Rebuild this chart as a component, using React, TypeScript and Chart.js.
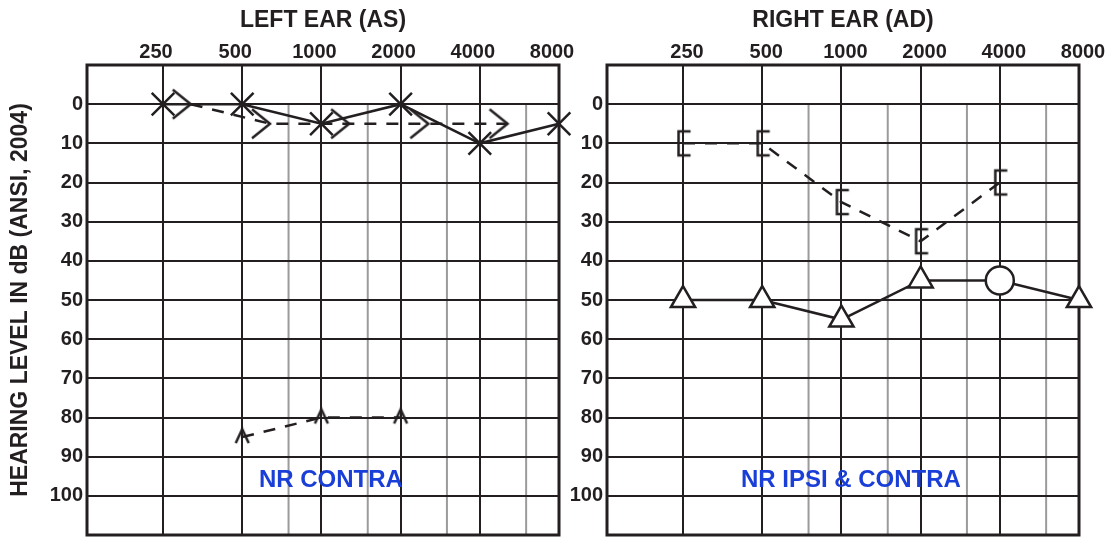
import React, { useEffect, useRef } from 'react';
import { Chart, registerables } from 'chart.js';

Chart.register(...registerables);

// ---------- data ----------
const FREQ_TICKS = [250, 500, 1000, 2000, 4000, 8000];
const FREQ_LABELS = ['250', '500', '1000', '2000', '4000', '8000'];
const MINOR_FREQS = [750, 1500, 3000, 6000];
const DB_TICKS = [0, 10, 20, 30, 40, 50, 60, 70, 80, 90, 100];

// Left ear (AS)
const LEFT_AC_FREQ = [250, 500, 1000, 2000, 4000, 8000];
const LEFT_AC_DB = [0, 0, 5, 0, 10, 5];
const LEFT_BC_FREQ = [250, 500, 1000, 2000, 4000];
const LEFT_BC_DB = [0, 5, 5, 5, 5];
const LEFT_NR_FREQ = [500, 1000, 2000];
const LEFT_NR_DB = [85, 80, 80];

// Right ear (AD)
const RIGHT_BC_FREQ = [250, 500, 1000, 2000, 4000];
const RIGHT_BC_DB = [10, 10, 25, 35, 20];
const RIGHT_AC_FREQ = [250, 500, 1000, 2000, 4000, 8000];
const RIGHT_AC_DB = [50, 50, 55, 45, 45, 50];
const RIGHT_AC_SYMBOL = ['triangle', 'triangle', 'triangle', 'triangle', 'circle', 'triangle'];

const LEFT_TITLE = 'LEFT EAR (AS)';
const RIGHT_TITLE = 'RIGHT EAR (AD)';
const Y_TITLE = 'HEARING LEVEL IN dB (ANSI, 2004)';
const LEFT_NOTE = 'NR CONTRA';
const RIGHT_NOTE = 'NR IPSI & CONTRA';

// ---------- style ----------
const INK = '#231f20';
const GREY = '#9b9b9b';
const BLUE = '#1a3fd8';
const FONT = '"Liberation Sans", Arial, Helvetica, sans-serif';
const X_MIN = 0.04;
const X_MAX = 6;
const BC_SHIFT = 0.35; // left-ear bone symbol drawn to the right of its frequency
const NOTE_X = 3.12;
const NOTE_Y = 96;

const oct = (f: number) => Math.log2(f / 125);

Chart.defaults.font.family = FONT;
Chart.defaults.color = INK;

function makeSymbol(w: number, h: number, draw: (ctx: CanvasRenderingContext2D, cx: number, cy: number) => void) {
  const c = document.createElement('canvas');
  c.width = w;
  c.height = h;
  const ctx = c.getContext('2d') as CanvasRenderingContext2D;
  ctx.strokeStyle = INK;
  ctx.lineWidth = 2.5;
  ctx.lineJoin = 'miter';
  ctx.beginPath();
  draw(ctx, w / 2, h / 2);
  ctx.stroke();
  return c;
}

function frameAndGrid(note: string) {
  return {
    id: 'audioFrame',
    beforeDraw(chart: any) {
      const { ctx, chartArea, scales } = chart;
      const x = scales.x, y = scales.y;
      ctx.save();
      ctx.strokeStyle = GREY;
      ctx.lineWidth = 2;
      const top = y.getPixelForValue(0);
      MINOR_FREQS.forEach((f) => {
        const px = x.getPixelForValue(oct(f));
        ctx.beginPath();
        ctx.moveTo(px, top);
        ctx.lineTo(px, chartArea.bottom);
        ctx.stroke();
      });
      ctx.restore();
    },
    beforeDatasetsDraw(chart: any) {
      const { ctx, chartArea } = chart;
      ctx.save();
      ctx.strokeStyle = INK;
      ctx.lineWidth = 3;
      ctx.strokeRect(chartArea.left, chartArea.top, chartArea.right - chartArea.left, chartArea.bottom - chartArea.top);
      ctx.restore();
    },
    afterDatasetsDraw(chart: any) {
      const { ctx, scales } = chart;
      ctx.save();
      ctx.fillStyle = BLUE;
      ctx.font = `bold 24px ${FONT}`;
      ctx.textAlign = 'center';
      ctx.textBaseline = 'middle';
      ctx.fillText(note, scales.x.getPixelForValue(NOTE_X), scales.y.getPixelForValue(NOTE_Y));
      ctx.restore();
    },
  };
}

function baseOptions(p: { title: string; yTitle: string | null; yWidth: number; padRight: number; labelOffset: number }) {
  return {
    responsive: false,
    animation: false,
    events: [],
    layout: { autoPadding: false, padding: { left: 0, top: 0, right: p.padRight, bottom: 5 } },
    plugins: { legend: { display: false }, tooltip: { enabled: false } },
    scales: {
      x: {
        type: 'linear',
        position: 'top',
        min: X_MIN,
        max: X_MAX,
        afterBuildTicks: (s: any) => {
          s.ticks = FREQ_TICKS.map((f) => ({ value: oct(f) }));
        },
        afterFit: (s: any) => {
          s.height = 65;
          s.paddingLeft = 0;
          s.paddingRight = 0;
          s.paddingTop = 0;
          s.paddingBottom = 0;
        },
        ticks: {
          autoSkip: false,
          maxRotation: 0,
          padding: 1,
          labelOffset: p.labelOffset,
          color: INK,
          font: { size: 20, weight: 'bold' },
          callback: (_v: any, i: number) => FREQ_LABELS[i],
        },
        grid: { color: INK, lineWidth: 2, drawTicks: false },
        border: { display: false },
        title: {
          display: true,
          text: p.title,
          color: INK,
          font: { size: 23, weight: 'bold' },
          padding: { top: 7, bottom: 0 },
        },
      },
      y: {
        type: 'linear',
        position: 'left',
        reverse: true,
        min: -10,
        max: 110,
        afterBuildTicks: (s: any) => {
          s.ticks = DB_TICKS.map((v) => ({ value: v }));
        },
        afterFit: (s: any) => {
          s.width = p.yWidth;
          s.paddingLeft = 0;
          s.paddingRight = 0;
          s.paddingTop = 0;
          s.paddingBottom = 0;
        },
        ticks: {
          autoSkip: false,
          padding: 4,
          color: INK,
          font: { size: 20, weight: 'bold' },
          callback: (v: any) => String(v),
        },
        grid: { color: INK, lineWidth: 2, drawTicks: false },
        border: { display: false },
        title: {
          display: !!p.yTitle,
          text: p.yTitle || '',
          color: INK,
          font: { size: 23, weight: 'bold' },
          padding: { top: 7, bottom: 0 },
        },
      },
    },
  };
}

export default function App() {
  const leftRef = useRef<HTMLCanvasElement | null>(null);
  const rightRef = useRef<HTMLCanvasElement | null>(null);

  useEffect(() => {
    const chevronRight = makeSymbol(44, 36, (ctx, cx, cy) => {
      ctx.moveTo(cx - 18, cy - 14.5);
      ctx.lineTo(cx, cy);
      ctx.lineTo(cx - 18, cy + 14.5);
    });
    const bracket = makeSymbol(24, 30, (ctx, cx, cy) => {
      ctx.moveTo(cx + 7.5, cy - 12);
      ctx.lineTo(cx - 4.5, cy - 12);
      ctx.lineTo(cx - 4.5, cy + 12);
      ctx.lineTo(cx + 7.5, cy + 12);
    });
    const chevronUp = makeSymbol(20, 24, (ctx, cx, cy) => {
      ctx.moveTo(cx - 6.5, cy + 6);
      ctx.lineTo(cx, cy - 8);
      ctx.lineTo(cx + 6.5, cy + 6);
    });

    const common = { showLine: true, borderColor: INK, borderWidth: 2.5, tension: 0, clip: false as any, pointBorderColor: INK };

    const left = new Chart(leftRef.current as HTMLCanvasElement, {
      type: 'line',
      data: {
        datasets: [
          {
            ...common,
            data: LEFT_AC_FREQ.map((f, i) => ({ x: oct(f), y: LEFT_AC_DB[i] })),
            pointStyle: 'crossRot',
            pointRadius: 16,
            pointBorderWidth: 2.5,
          },
          {
            ...common,
            data: LEFT_BC_FREQ.map((f, i) => ({ x: oct(f) + BC_SHIFT, y: LEFT_BC_DB[i] })),
            borderDash: [12, 10],
            pointStyle: chevronRight,
            pointRadius: 10,
          },
          {
            ...common,
            data: LEFT_NR_FREQ.map((f, i) => ({ x: oct(f), y: LEFT_NR_DB[i] })),
            borderDash: [12, 10],
            pointStyle: chevronUp,
            pointRadius: 8,
          },
        ] as any,
      },
      options: baseOptions({ title: LEFT_TITLE, yTitle: Y_TITLE, yWidth: 87, padRight: 26, labelOffset: -7 }) as any,
      plugins: [frameAndGrid(LEFT_NOTE)],
    });

    const right = new Chart(rightRef.current as HTMLCanvasElement, {
      type: 'line',
      data: {
        datasets: [
          {
            ...common,
            data: RIGHT_AC_FREQ.map((f, i) => ({ x: oct(f), y: RIGHT_AC_DB[i] })),
            pointStyle: RIGHT_AC_SYMBOL,
            pointRadius: 14,
            pointBorderWidth: 2.5,
            pointBackgroundColor: '#ffffff',
          },
          {
            ...common,
            data: RIGHT_BC_FREQ.map((f, i) => ({ x: oct(f), y: RIGHT_BC_DB[i] })),
            borderDash: [12, 10],
            pointStyle: bracket,
            pointRadius: 10,
          },
        ] as any,
      },
      options: baseOptions({ title: RIGHT_TITLE, yTitle: null, yWidth: 52, padRight: 32, labelOffset: 4 }) as any,
      plugins: [frameAndGrid(RIGHT_NOTE)],
    });

    return () => {
      left.destroy();
      right.destroy();
    };
  }, []);

  return (
    <div style={{ position: 'fixed', left: 0, top: 0, width: 1111, height: 540, background: '#ffffff' }}>
      <canvas ref={leftRef} width={585} height={540} style={{ position: 'absolute', left: 0, top: 0 }} />
      <canvas ref={rightRef} width={556} height={540} style={{ position: 'absolute', left: 555, top: 0 }} />
    </div>
  );
}
